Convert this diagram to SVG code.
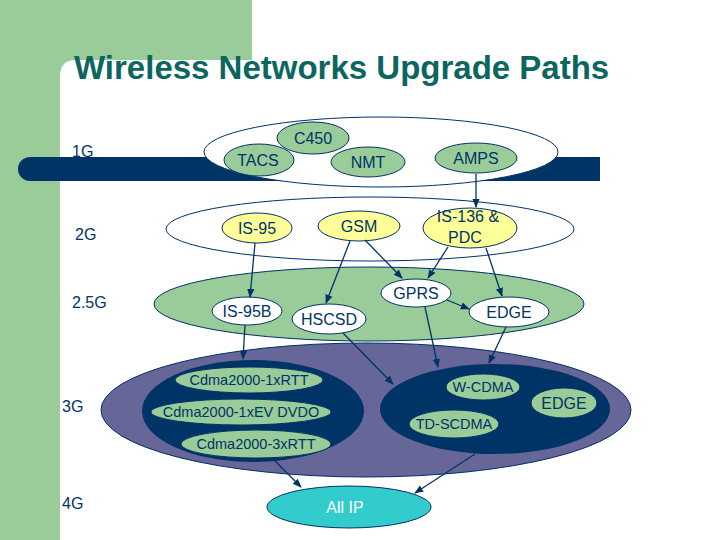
<svg xmlns="http://www.w3.org/2000/svg" width="720" height="540" viewBox="0 0 720 540">
<defs>
<marker id="ah" viewBox="0 0 10 10" refX="9" refY="5" markerWidth="7" markerHeight="7" orient="auto"><path d="M0,1 L10,5 L0,9 z" fill="#003366"/></marker>
<style>
text{font-family:"Liberation Sans",Arial,sans-serif;fill:#003366;text-anchor:middle}
.lvl{font-size:16px;text-anchor:start}
.n{font-size:16px}
.s{font-size:14.5px}
.g{fill:#99cc99;stroke:#003366;stroke-width:1}
.y{fill:#ffff99;stroke:#003366;stroke-width:1}
.w{fill:#ffffff;stroke:#003366;stroke-width:1}
.c line{stroke:#003366;stroke-width:1.3;marker-end:url(#ah)}
</style>
</defs>
<rect width="720" height="540" fill="#ffffff"/>
<rect x="0" y="0" width="252" height="80" fill="#99cc99"/>
<rect x="0" y="0" width="60" height="540" fill="#99cc99"/>
<path d="M60,540 V76 Q60,60 76,60 H720 V540 z" fill="#ffffff"/>
<text x="74" y="79" style="font-size:33px;font-weight:bold;fill:#0b6660;text-anchor:start">Wireless Networks Upgrade Paths</text>
<path d="M30,157 H600 V181 H30 A12,12 0 0 1 30,157 z" fill="#003366"/>
<text class="lvl" x="72" y="157">1G</text>
<text class="lvl" x="75" y="240">2G</text>
<text class="lvl" x="72" y="308">2.5G</text>
<text class="lvl" x="62" y="412">3G</text>
<text class="lvl" x="62" y="509">4G</text>
<g id="g1"><ellipse cx="381" cy="152" rx="177" ry="35" class="w"/></g>
<g id="c450"><ellipse cx="313" cy="138" rx="36" ry="16" class="g"/><text class="n" x="313" y="144">C450</text></g>
<g id="tacs"><ellipse cx="259" cy="160" rx="35" ry="16" class="g"/><text class="n" x="258" y="166">TACS</text></g>
<g id="nmt"><ellipse cx="368" cy="162" rx="37" ry="15" class="g"/><text class="n" x="368" y="168">NMT</text></g>
<g id="amps"><ellipse cx="476" cy="158" rx="41" ry="15" class="g"/><text class="n" x="476" y="164">AMPS</text></g>
<g id="g2"><ellipse cx="370" cy="229" rx="204" ry="32" class="w"/></g>
<g id="is95"><ellipse cx="257" cy="228" rx="35" ry="15" class="y"/><text class="n" x="257" y="234">IS-95</text></g>
<g id="gsm"><ellipse cx="359" cy="226" rx="41" ry="15" class="y"/><text class="n" x="359" y="232">GSM</text></g>
<g id="is136"><ellipse cx="470" cy="228" rx="47" ry="20" class="y"/><text class="n" x="468" y="222">IS-136 &amp;</text><text class="n" x="465" y="243">PDC</text></g>
<g id="g25"><ellipse cx="369" cy="304" rx="215" ry="37" class="g"/></g>
<g id="is95b"><ellipse cx="247" cy="311" rx="35" ry="14" class="w"/><text class="n" x="247" y="317">IS-95B</text></g>
<g id="hscsd"><ellipse cx="329" cy="319" rx="37" ry="15" class="w"/><text class="n" x="329" y="325">HSCSD</text></g>
<g id="gprs"><ellipse cx="416" cy="293" rx="35" ry="14" class="w"/><text class="n" x="416" y="299">GPRS</text></g>
<g id="edge25"><ellipse cx="509" cy="312" rx="40" ry="15" class="w"/><text class="n" x="509" y="318">EDGE</text></g>
<g id="g3"><ellipse cx="366" cy="410" rx="265" ry="67" fill="#666699" stroke="#003366"/></g>
<g id="cdma"><ellipse cx="253" cy="411" rx="111" ry="51" fill="#003366"/></g>
<g id="rtt1"><ellipse cx="249" cy="380" rx="74" ry="13" class="g"/><text class="s" x="249" y="385">Cdma2000-1xRTT</text></g>
<g id="dvdo"><ellipse cx="241" cy="412" rx="90" ry="13" class="g"/><text class="s" x="241" y="417">Cdma2000-1xEV DVDO</text></g>
<g id="rtt3"><ellipse cx="256" cy="444" rx="75" ry="14" class="g"/><text class="s" x="256" y="449">Cdma2000-3xRTT</text></g>
<g id="wc"><ellipse cx="495" cy="409" rx="115" ry="45" fill="#003366"/></g>
<g id="wcdma"><ellipse cx="483" cy="387" rx="37" ry="13" class="g"/><text class="s" x="483" y="392">W-CDMA</text></g>
<g id="edge3"><ellipse cx="564" cy="403" rx="33" ry="15" class="g"/><text class="n" x="564" y="409">EDGE</text></g>
<g id="td"><ellipse cx="454" cy="424" rx="45" ry="14" class="g"/><text class="s" x="454" y="429">TD-SCDMA</text></g>
<g id="allip"><ellipse cx="349" cy="507" rx="82" ry="21" fill="#33cccc" stroke="#003366"/><text class="n" x="345" y="513" style="fill:#ffffff">All IP</text></g>
<g class="c" id="connectors">
<line x1="476" y1="174" x2="476" y2="207"/>
<line x1="255" y1="243" x2="250" y2="297"/>
<line x1="350" y1="241" x2="326" y2="303"/>
<line x1="365" y1="240" x2="402" y2="278"/>
<line x1="448" y1="247" x2="428" y2="278"/>
<line x1="486" y1="248" x2="502" y2="296"/>
<line x1="447" y1="300" x2="469" y2="309"/>
<line x1="245" y1="325" x2="243" y2="359"/>
<line x1="343" y1="333" x2="393" y2="384"/>
<line x1="425" y1="307" x2="438" y2="367"/>
<line x1="506" y1="327" x2="489" y2="363"/>
<line x1="272" y1="458" x2="301" y2="487"/>
<line x1="475" y1="454" x2="415" y2="493"/>
</g>
</svg>
